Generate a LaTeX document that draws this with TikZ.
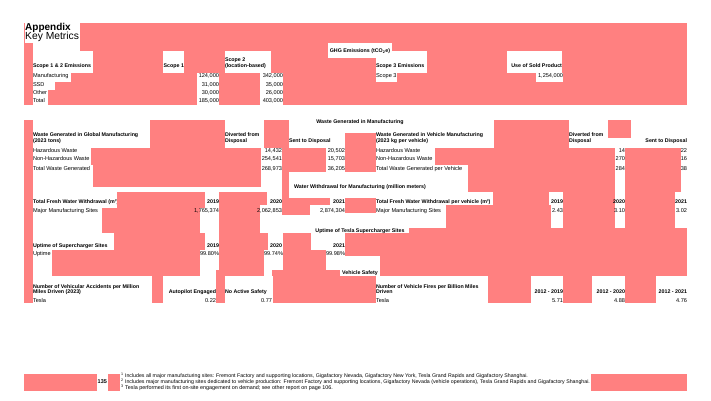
\documentclass[tikz,border=0pt]{standalone}
\usepackage{fontspec}
\setmainfont{Liberation Sans}
\usepackage{graphicx}
\definecolor{salm}{RGB}{255,128,128}
\newcommand{\salbox}[4]{\fill[salm] (#1,#2) rectangle (#3,#4);}
\newcommand{\whtbox}[4]{\fill[white] (#1,#2) rectangle (#3,#4);}
\tikzset{
  txt/.style={inner sep=0pt, outer sep=0pt, font=\fontsize{5.6}{6}\selectfont},
  hdr/.style={inner sep=0pt, outer sep=0pt, font=\fontsize{5.3}{6}\selectfont\bfseries},
  lw/.style={anchor=base west},
  le/.style={anchor=base east},
  lc/.style={anchor=base},
  fnote/.style={inner sep=0pt, outer sep=0pt, anchor=base west, font=\fontsize{4.8}{5}\selectfont},
}
\begin{document}
\begin{tikzpicture}[x=1pt,y=-1pt]
\useasboundingbox (0,0) rectangle (711,400);
% ---------- section 1: GHG ----------
\salbox{24}{23}{687}{105}
\whtbox{25}{23}{80}{43}
\whtbox{33}{43}{80}{51}
\whtbox{328}{43}{392}{58}
\whtbox{33}{51}{93}{73}
\whtbox{163}{51}{184}{73}
\whtbox{225}{51}{271}{73}
\whtbox{376}{51}{427}{73}
\whtbox{507}{51}{562}{73}
\whtbox{33}{73}{71}{82}
\whtbox{33}{82}{55}{90}
\whtbox{33}{90}{48}{105}
\whtbox{197}{73}{219}{105}
\whtbox{260}{73}{283}{105}
\whtbox{376}{73}{397}{82}
\whtbox{536}{73}{563}{82}
% ---------- water headers (clipped by salmon) ----------
\node[hdr,lw] (wh1) at (33,203.5) {Total Fresh Water Withdrawal (m³)};
\node[hdr,lw] (wh2) at (376,203.5) {Total Fresh Water Withdrawal per vehicle (m³)};
% ---------- section 2: waste ----------
\salbox{24}{120}{33}{303}
\salbox{150}{120}{225}{148}
\salbox{91}{148}{261}{165}
\salbox{93}{165}{261}{187}
\salbox{264}{120}{289}{148}
\salbox{282}{148}{326}{172}
\salbox{282}{172}{289}{198}
\salbox{345}{133}{376}{172}
\salbox{494}{120}{569}{148}
\salbox{608}{120}{631}{138}
\salbox{435}{148}{615}{165}
\salbox{468}{165}{615}{192}
\salbox{625}{148}{681}{192}
% ---------- section 3: water ----------
\salbox{117}{192}{205}{208}
\salbox{102}{208}{200}{233}
\salbox{219}{192}{260}{250}
\salbox{260}{192}{267}{205}
\salbox{282}{198}{330}{205}
\salbox{282}{205}{310}{215}
\salbox{345}{198}{376}{213}
\salbox{493}{192}{549}{205}
\salbox{446}{205}{551}{228}
\salbox{563}{192}{615}{228}
\salbox{625}{192}{675}{228}
% ---------- section 4: uptime ----------
\salbox{114}{233}{205}{250}
\salbox{52}{250}{200}{276}
\salbox{219}{233}{268}{250}
\salbox{219}{250}{264}{276}
\salbox{283}{233}{311}{250}
\salbox{283}{250}{326}{270}
\salbox{409}{228}{687}{233}
\salbox{345}{233}{687}{256}
\salbox{380}{256}{687}{276}
\salbox{272}{270}{340}{276}
% ---------- section 5: vehicle safety ----------
\salbox{152}{276}{163}{303}
\salbox{216}{270}{225}{303}
\salbox{273}{276}{376}{303}
\salbox{488}{276}{531}{303}
\salbox{563}{276}{592}{303}
\salbox{625}{276}{656}{303}
% ---------- footer ----------
\salbox{24}{374}{97}{391}
\salbox{108}{374}{120}{391}
\salbox{591}{374}{687}{391}

% ================= TEXT =================
\node[inner sep=0pt, lw, font=\fontsize{10}{10}\selectfont\bfseries] (t1) at (25,30.5) {Appendix};
\node[inner sep=0pt, lw, font=\fontsize{10.3}{10}\selectfont] (t2) at (25,39.5) {Key Metrics};
% GHG
\node[hdr,lc] (g0) at (360,52) {GHG Emissions (tCO\textsubscript{2}e)};
\node[hdr,lw] (g1) at (33,67) {Scope 1 \& 2 Emissions};
\node[hdr,le] (g2) at (184,67) {Scope 1};
\node[hdr,lw] (g3a) at (225,61) {Scope 2};
\node[hdr,lw] (g3b) at (225,67) {(location-based)};
\node[hdr,lw] (g4) at (376,67) {Scope 3 Emissions};
\node[hdr,le] (g5) at (562,67) {Use of Sold Product};
\node[txt,lw] (r1) at (33,77.5) {Manufacturing};
\node[txt,lw] (r2) at (33,86) {SSD};
\node[txt,lw] (r3) at (33,94) {Other};
\node[txt,lw] (r4) at (33,102.5) {Total};
\node[txt,le] (v11) at (219,77.5) {124,000};
\node[txt,le] (v12) at (219,86) {31,000};
\node[txt,le] (v13) at (219,94) {30,000};
\node[txt,le] (v14) at (219,102.5) {185,000};
\node[txt,le] (v21) at (283,77.5) {342,000};
\node[txt,le] (v22) at (283,86) {35,000};
\node[txt,le] (v23) at (283,94) {26,000};
\node[txt,le] (v24) at (283,102.5) {403,000};
\node[txt,lw] (s3) at (376,77.5) {Scope 3};
\node[txt,le] (s3v) at (563,77.5) {1,254,000};
% Waste
\node[hdr,lc] (w0) at (360,123) {Waste Generated in Manufacturing};
\node[hdr,lw] (wa1) at (33,136.5) {Waste Generated in Global Manufacturing};
\node[hdr,lw] (wa2) at (33,142) {(2023 tons)};
\node[hdr,lw] (wa3) at (225,136.5) {Diverted from};
\node[hdr,lw] (wa4) at (225,142) {Disposal};
\node[hdr,lw] (wa5) at (289,142) {Sent to Disposal};
\node[txt,lw] (wr1) at (33,152) {Hazardous Waste};
\node[txt,lw] (wr2) at (33,160) {Non-Hazardous Waste};
\node[txt,lw] (wr3) at (33,170) {Total Waste Generated};
\node[txt,le] (wv11) at (282,152) {14,432};
\node[txt,le] (wv12) at (282,160) {254,541};
\node[txt,le] (wv13) at (282,170) {268,973};
\node[txt,le] (wv21) at (345,152) {20,502};
\node[txt,le] (wv22) at (345,160) {15,703};
\node[txt,le] (wv23) at (345,170) {36,205};
\node[hdr,lw] (wb1) at (376,136.5) {Waste Generated in Vehicle Manufacturing};
\node[hdr,lw] (wb2) at (376,142) {(2023 kg per vehicle)};
\node[hdr,lw] (wb3) at (569,136.5) {Diverted from};
\node[hdr,lw] (wb4) at (569,142) {Disposal};
\node[hdr,le] (wb5) at (687,142) {Sent to Disposal};
\node[txt,lw] (wq1) at (376,152) {Hazardous Waste};
\node[txt,lw] (wq2) at (376,160) {Non-Hazardous Waste};
\node[txt,lw] (wq3) at (376,170) {Total Waste Generated per Vehicle};
\node[txt,le] (wu11) at (625,152) {14};
\node[txt,le] (wu12) at (625,160) {270};
\node[txt,le] (wu13) at (625,170) {284};
\node[txt,le] (wu21) at (687,152) {22};
\node[txt,le] (wu22) at (687,160) {16};
\node[txt,le] (wu23) at (687,170) {38};
% Water
\node[hdr,lc] (h0) at (360,188.5) {Water Withdrawal for Manufacturing (million meters)};
\node[hdr,le] (hy1) at (219,203.5) {2019};
\node[hdr,le] (hy2) at (282,203.5) {2020};
\node[hdr,le] (hy3) at (345,203.5) {2021};
\node[txt,lw] (hr1) at (33,212.5) {Major Manufacturing Sites};
\node[txt,le] (hv1) at (219,212.5) {1,765,374};
\node[txt,le] (hv2) at (282,212.5) {2,062,853};
\node[txt,le] (hv3) at (345,212.5) {2,874,304};
\node[hdr,le] (hz1) at (563,203.5) {2019};
\node[hdr,le] (hz2) at (625,203.5) {2020};
\node[hdr,le] (hz3) at (687,203.5) {2021};
\node[txt,lw] (hq1) at (376,212.5) {Major Manufacturing Sites};
\node[txt,le] (hu1) at (563,212.5) {2.43};
\node[txt,le] (hu2) at (625,212.5) {3.10};
\node[txt,le] (hu3) at (687,212.5) {3.02};
% Uptime
\node[hdr,lc] (u0) at (360,232) {Uptime of Tesla Supercharger Sites};
\node[hdr,lw] (u1) at (33,247) {Uptime of Supercharger Sites};
\node[hdr,le] (uy1) at (219,247) {2019};
\node[hdr,le] (uy2) at (282,247) {2020};
\node[hdr,le] (uy3) at (345,247) {2021};
\node[txt,lw] (ur1) at (33,255.5) {Uptime};
\node[txt,le] (uv1) at (219,255.5) {99.80\%};
\node[txt,le] (uv2) at (283,255.5) {99.74\%};
\node[txt,le] (uv3) at (345,255.5) {99.98\%};
% Vehicle safety
\node[hdr,lc] (vs0) at (360,274.5) {Vehicle Safety};
\node[hdr,lw] (va1) at (33,288) {Number of Vehicular Accidents per Million};
\node[hdr,lw] (va2) at (33,293.5) {Miles Driven (2023)};
\node[hdr,le] (va3) at (216,293.5) {Autopilot Engaged};
\node[hdr,lw] (va4) at (225,293.5) {No Active Safety};
\node[txt,lw] (var) at (33,302.5) {Tesla};
\node[txt,le] (vav1) at (216,302.5) {0.22};
\node[txt,le] (vav2) at (272,302.5) {0.77};
\node[hdr,lw] (vb1) at (376,288) {Number of Vehicle Fires per Billion Miles};
\node[hdr,lw] (vb2) at (376,293.5) {Driven};
\node[hdr,le] (vb3) at (563,293.5) {2012 - 2019};
\node[hdr,le] (vb4) at (625,293.5) {2012 - 2020};
\node[hdr,le] (vb5) at (687,293.5) {2012 - 2021};
\node[txt,lw] (vbr) at (376,302.5) {Tesla};
\node[txt,le] (vbv1) at (563,302.5) {5.71};
\node[txt,le] (vbv2) at (625,302.5) {4.88};
\node[txt,le] (vbv3) at (687,302.5) {4.76};
% Footer
\node[inner sep=0pt, lw, font=\fontsize{5.5}{6}\selectfont\bfseries] (pg) at (97.5,383.5) {135};
\node[fnote] (f1) at (121,377.5) {\resizebox{407pt}{!}{\textsuperscript{1} Includes all major manufacturing sites: Fremont Factory and supporting locations, Gigafactory Nevada, Gigafactory New York, Tesla Grand Rapids and Gigafactory Shanghai.}};
\node[fnote] (f2) at (121,383.5) {\resizebox{469pt}{!}{\textsuperscript{2} Includes major manufacturing sites dedicated to vehicle production: Fremont Factory and supporting locations, Gigafactory Nevada (vehicle operations), Tesla Grand Rapids and Gigafactory Shanghai.}};
\node[fnote] (f3) at (121,389.5) {\resizebox{212pt}{!}{\textsuperscript{3} Tesla performed its first on-site engagement on demand; see other report on page 106.}};
\end{tikzpicture}
\end{document}
